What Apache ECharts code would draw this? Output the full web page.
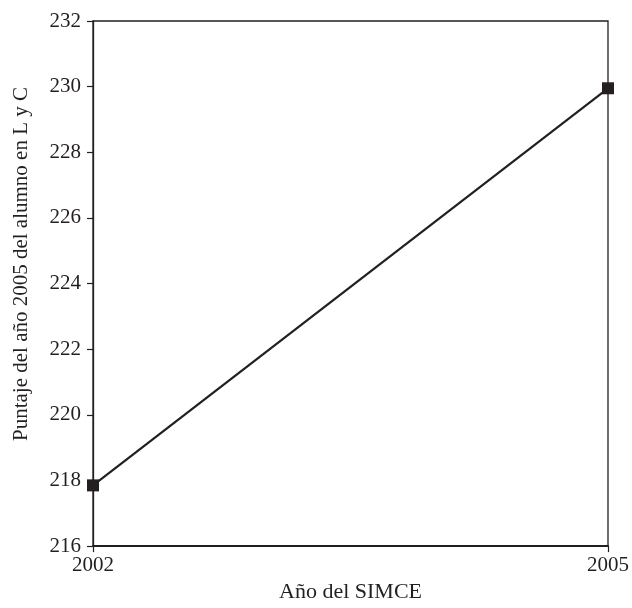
<!DOCTYPE html>
<html><head><meta charset="utf-8">
<script src="https://cdn.jsdelivr.net/npm/echarts@6/dist/echarts.min.js"></script>
<style>html,body{margin:0;padding:0;background:#fff}#c{width:632px;height:608px}</style>
</head><body><div id="c"></div>
<script>
const categories = ['2002', '2005'];
const scores = [217.85, 229.95];
const yTitle = 'Puntaje del año 2005 del alumno en L y C';
const xTitle = 'Año del SIMCE';
const font = 'Liberation Serif';
const ink = '#231f20';
const chart = echarts.init(document.getElementById('c'), null, {renderer: 'canvas'});
chart.setOption({
  animation: false,
  backgroundColor: '#fff',
  grid: {left: 93, right: 22, top: 21, bottom: 53, show: true, borderColor: ink, borderWidth: 1.3},
  graphic: [{
    type: 'text', x: 21, y: 264, rotation: Math.PI / 2,
    style: {text: yTitle, fontFamily: font, fontSize: 21, fill: ink, align: 'center', verticalAlign: 'middle'}
  }],
  xAxis: {
    type: 'category', data: categories, boundaryGap: false,
    name: xTitle, nameLocation: 'middle', nameGap: 32,
    nameTextStyle: {fontFamily: font, fontSize: 22, color: ink},
    axisLine: {lineStyle: {color: ink, width: 1.8}},
    axisTick: {show: true, length: 6, lineStyle: {color: ink, width: 1.2}},
    axisLabel: {fontFamily: font, fontSize: 21, color: ink, margin: 9},
    splitLine: {show: false}
  },
  yAxis: {
    type: 'value', min: 216, max: 232, interval: 2,
    axisLine: {show: true, lineStyle: {color: ink, width: 1.3}},
    axisTick: {show: true, length: 6, lineStyle: {color: ink, width: 1.2}},
    axisLabel: {fontFamily: font, fontSize: 21, color: ink, margin: 12},
    splitLine: {show: false}
  },
  series: [{
    type: 'line', data: scores,
    symbol: 'rect', symbolSize: 12,
    lineStyle: {color: ink, width: 2.2},
    itemStyle: {color: ink}
  }]
});
</script></body></html>
